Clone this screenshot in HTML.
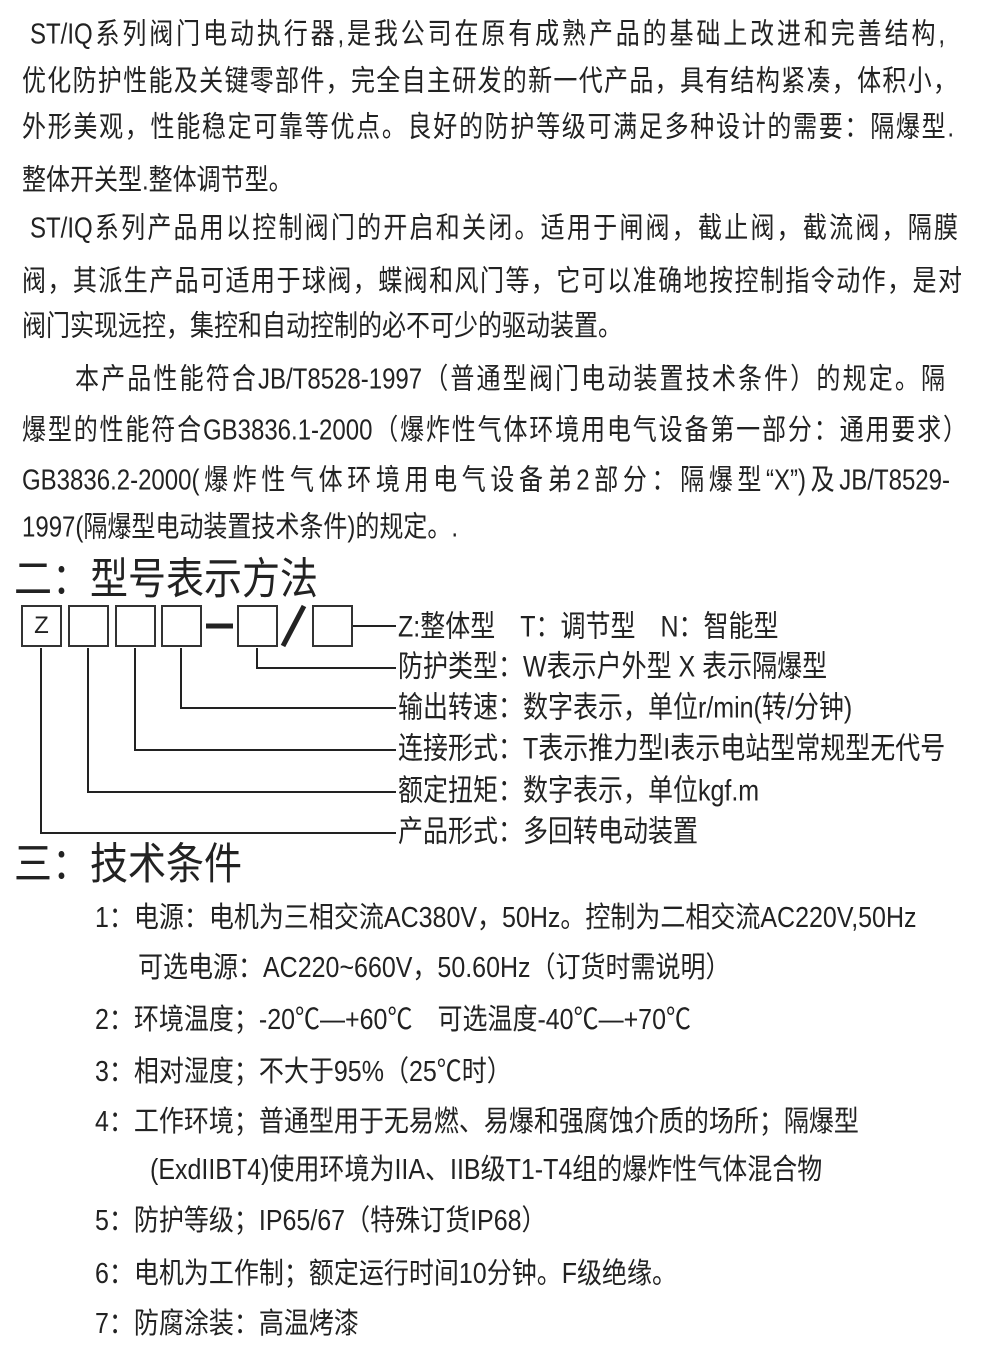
<!DOCTYPE html>
<html><head><meta charset="utf-8"><style>
body{margin:0;width:988px;height:1351px;background:#fff;position:relative;overflow:hidden;font-family:"Liberation Sans","Noto Sans CJK SC",sans-serif;color:#222}
.l{position:absolute;white-space:nowrap;font-size:24px;line-height:34px;transform-origin:left center;transform:scaleY(1.2)}
.j{text-align:justify;text-align-last:justify}
.h{position:absolute;font-size:38px;line-height:50px;white-space:nowrap;transform-origin:left center;transform:scaleY(1.15)}
.i{position:absolute;white-space:nowrap;font-size:25px;line-height:34px;transform-origin:left center;transform:scaleY(1.15)}
.b{position:absolute;border:2px solid #333;width:37px;height:38px;box-sizing:content-box;text-align:center;font-size:24px;line-height:38px}
</style></head><body>
<div class="l j" style="left:30px;top:18px;width:915px">ST/IQ系列阀门电动执行器,是我公司在原有成熟产品的基础上改进和完善结构,</div>
<div class="l j" style="left:22px;top:65px;width:935px">优化防护性能及关键零部件，完全自主研发的新一代产品，具有结构紧凑，体积小，</div>
<div class="l j" style="left:22px;top:111px;width:932px">外形美观，性能稳定可靠等优点。良好的防护等级可满足多种设计的需要：隔爆型.</div>
<div class="l" style="left:22px;top:164px">整体开关型.整体调节型。</div>
<div class="l j" style="left:30px;top:212px;width:928px">ST/IQ系列产品用以控制阀门的开启和关闭。适用于闸阀，截止阀，截流阀，隔膜</div>
<div class="l j" style="left:22px;top:265px;width:940px">阀，其派生产品可适用于球阀，蝶阀和风门等，它可以准确地按控制指令动作，是对</div>
<div class="l" style="left:22px;top:310px">阀门实现远控，集控和自动控制的必不可少的驱动装置。</div>
<div class="l j" style="left:75px;top:363px;width:870px">本产品性能符合JB/T8528-1997（普通型阀门电动装置技术条件）的规定。隔</div>
<div class="l j" style="left:22px;top:414px;width:945px">爆型的性能符合GB3836.1-2000（爆炸性气体环境用电气设备第一部分：通用要求）</div>
<div class="l j" style="left:22px;top:464px;width:928px">GB3836.2-2000(爆炸性气体环境用电气设备弟2部分：隔爆型“X”)及JB/T8529-</div>
<div class="l" style="left:22px;top:511px">1997(隔爆型电动装置技术条件)的规定。.</div>
<div class="h" style="left:14px;top:555px">二：型号表示方法</div>
<div class="b" style="left:21px;top:605px">Z</div>
<div class="b" style="left:68px;top:605px"></div>
<div class="b" style="left:115px;top:605px"></div>
<div class="b" style="left:161px;top:605px"></div>
<div class="b" style="left:237px;top:605px"></div>
<div class="b" style="left:312px;top:605px"></div>
<svg style="position:absolute;left:0;top:0" width="988" height="1351">
<g stroke="#222" stroke-width="2" fill="none">
<line x1="206" y1="626" x2="233" y2="626" stroke-width="5"/>
<line x1="283" y1="646" x2="304" y2="606" stroke-width="5"/>
<polyline points="353,626 396,626"/>
<polyline points="257,648 257,668 396,668"/>
<polyline points="181,648 181,708 396,708"/>
<polyline points="135,648 135,750 396,750"/>
<polyline points="88,648 88,792 396,792"/>
<polyline points="41,648 41,833 396,833"/>
</g></svg>
<div class="l" style="left:398px;top:610px;font-size:25px">Z:整体型　T：调节型　N：智能型</div>
<div class="l" style="left:398px;top:650px;font-size:25px">防护类型：W表示户外型 X 表示隔爆型</div>
<div class="l" style="left:398px;top:691px;font-size:25px">输出转速：数字表示，单位r/min(转/分钟)</div>
<div class="l" style="left:398px;top:732px;font-size:25px">连接形式：T表示推力型I表示电站型常规型无代号</div>
<div class="l" style="left:398px;top:774px;font-size:25px">额定扭矩：数字表示，单位kgf.m</div>
<div class="l" style="left:398px;top:815px;font-size:25px">产品形式：多回转电动装置</div>
<div class="h" style="left:14px;top:840px">三：技术条件</div>
<div class="i" style="left:95px;top:901px">1：电源：电机为三相交流AC380V，50Hz。控制为二相交流AC220V,50Hz</div>
<div class="i" style="left:138px;top:951px">可选电源：AC220~660V，50.60Hz（订货时需说明）</div>
<div class="i" style="left:95px;top:1003px">2：环境温度；-20℃—+60℃　可选温度-40℃—+70℃</div>
<div class="i" style="left:95px;top:1055px">3：相对湿度；不大于95%（25℃时）</div>
<div class="i" style="left:95px;top:1105px">4：工作环境；普通型用于无易燃、易爆和强腐蚀介质的场所；隔爆型</div>
<div class="i" style="left:150px;top:1153px">(ExdIIBT4)使用环境为IIA、IIB级T1-T4组的爆炸性气体混合物</div>
<div class="i" style="left:95px;top:1204px">5：防护等级；IP65/67（特殊订货IP68）</div>
<div class="i" style="left:95px;top:1257px">6：电机为工作制；额定运行时间10分钟。F级绝缘。</div>
<div class="i" style="left:95px;top:1307px">7：防腐涂装：高温烤漆</div>
</body></html>
